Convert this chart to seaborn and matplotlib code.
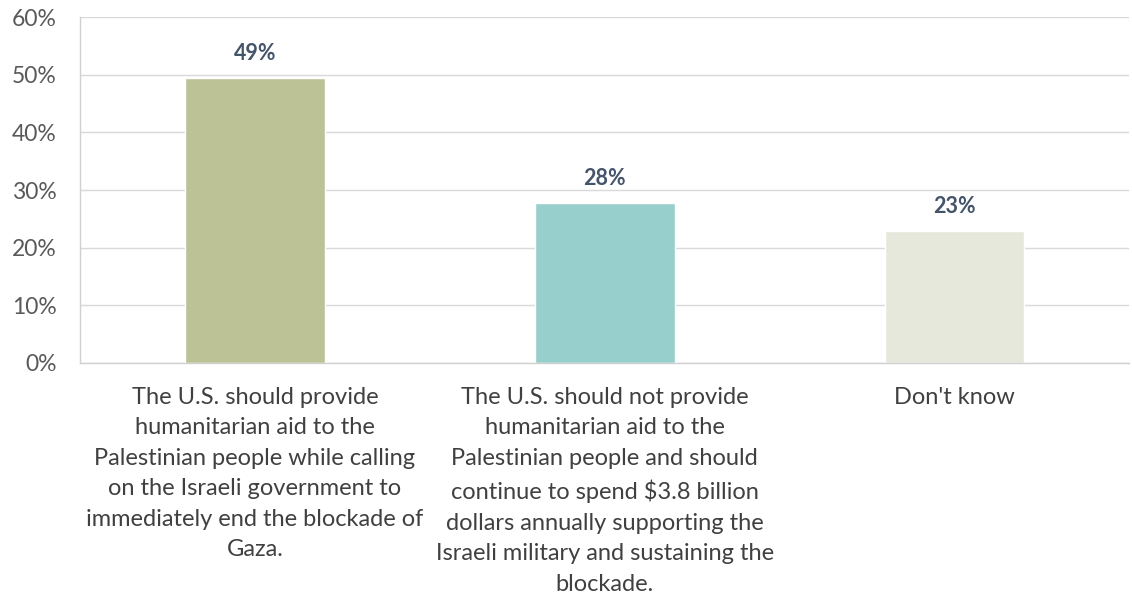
import matplotlib
matplotlib.use("Agg")
import matplotlib.pyplot as plt
import seaborn as sns
import pandas as pd

categories = [
    "The U.S. should provide\nhumanitarian aid to the\nPalestinian people while calling\non the Israeli government to\nimmediately end the blockade of\nGaza.",
    "The U.S. should not provide\nhumanitarian aid to the\nPalestinian people and should\ncontinue to spend $3.8 billion\ndollars annually supporting the\nIsraeli military and sustaining the\nblockade.",
    "Don't know",
]
values = [49.4, 27.7, 22.9]
value_labels = ["49%", "28%", "23%"]
colors = ["#BCC296", "#97CFCC", "#E7E8DC"]
yticks = [0, 10, 20, 30, 40, 50, 60]

sns.set_theme(style="white")
plt.rcParams["font.family"] = ["Lato", "DejaVu Sans"]

fig = plt.figure(figsize=(11.32, 5.94), dpi=100)
ax = fig.add_axes([0.0707, 0.389, 0.927, 0.582])

df = pd.DataFrame({"cat": categories, "val": values})
sns.barplot(data=df, x="cat", y="val", hue="cat", palette=colors, legend=False,
            width=0.4, ax=ax, saturation=1)

ax.set_ylim(0, 60)
ax.set_yticks(yticks)
ax.set_yticklabels([f"{t}%" for t in yticks], fontsize=16.5, color="#595959")
ax.yaxis.grid(True, color="#D9D9D9", linewidth=1)
ax.set_axisbelow(True)
ax.set_xlabel("")
ax.set_ylabel("")
ax.tick_params(axis="x", labelsize=17, colors="#404040", length=0, pad=17)
ax.tick_params(axis="y", length=0, pad=17)
for lbl in ax.get_xticklabels():
    lbl.set_linespacing(1.56)

for s in ["top", "right"]:
    ax.spines[s].set_visible(False)
for s in ["left", "bottom"]:
    ax.spines[s].set_color("#D0D0D0")
    ax.spines[s].set_linewidth(1)

for i, (v, lab) in enumerate(zip(values, value_labels)):
    ax.annotate(lab, (i, v), xytext=(0, 10), textcoords="offset points",
                ha="center", va="bottom", fontsize=15.5, fontweight="bold",
                color="#44546A")

fig.savefig("out.png", dpi=100)
